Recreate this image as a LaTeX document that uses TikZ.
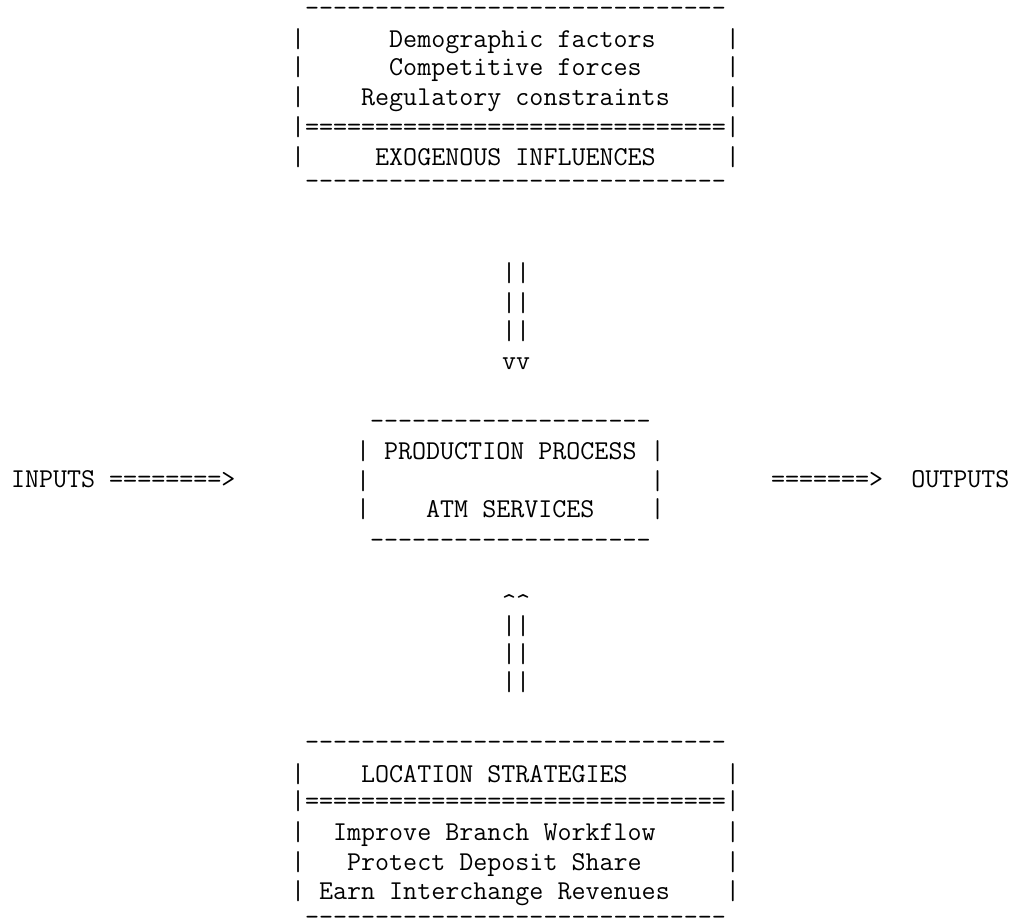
\documentclass[tikz,border=0pt]{standalone}
\usepackage{fontspec}
\newfontfamily\printerfont{Latin Modern Mono}
% repeat a typed character n times
\newcommand{\rpt}[2]{\foreach \n in {1,...,#1}{#2}}
\tikzset{
  typed/.style={anchor=base west, inner sep=0pt, outer sep=0pt,
    font={\printerfont\fontsize{13.62}{16}\selectfont}},
}

\begin{document}
\begin{tikzpicture}[x=0.5pt, y=-0.5pt]
  \useasboundingbox (0,0) rectangle (1020,921);

  % ---------- Top box: exogenous influences ----------
  \node[typed] (ex-top) at (291,17)  {~\rpt{30}{-}};
  \node[typed] (ex-r1)  at (291,47)  {|\rpt{6}{~}Demographic~factors\rpt{5}{~}|};
  \node[typed] (ex-r2)  at (291,75)  {|\rpt{6}{~}Competitive~forces\rpt{6}{~}|};
  \node[typed] (ex-r3)  at (291,105) {|\rpt{4}{~}Regulatory~constraints\rpt{4}{~}|};
  \node[typed] (ex-r4)  at (291,135) {|\rpt{30}{=}|};
  \node[typed] (ex-r5)  at (291,165) {|\rpt{5}{~}EXOGENOUS~INFLUENCES\rpt{5}{~}|};
  \node[typed] (ex-bot) at (291,189) {~\rpt{30}{-}};

  % ---------- Down arrow ----------
  \node[typed] (dn-1) at (502,281) {||};
  \node[typed] (dn-2) at (502,311) {||};
  \node[typed] (dn-3) at (502,339) {||};
  \node[typed] (dn-v) at (502,369) {vv};

  % ---------- Middle box: production process ----------
  \node[typed] (pp-top) at (356,429) {~\rpt{20}{-}};
  \node[typed] (pp-r1)  at (356,459) {|~PRODUCTION~PROCESS~|};
  \node[typed] (pp-r2)  at (356,489) {|\rpt{20}{~}|};
  \node[typed] (pp-r3)  at (356,517) {|\rpt{4}{~}ATM~SERVICES\rpt{4}{~}|};
  \node[typed] (pp-bot) at (356,548) {~\rpt{20}{-}};

  % ---------- Inputs and outputs ----------
  \node[typed] (inputs)  at (11,487)  {INPUTS~\rpt{8}{=}>};
  \node[typed] (outputs) at (771,487) {\rpt{7}{=}>~~OUTPUTS};

  % ---------- Up arrow ----------
  \node[typed] (up-h) at (502,611) {\textasciicircum\textasciicircum};
  \node[typed] (up-1) at (502,634) {||};
  \node[typed] (up-2) at (502,662) {||};
  \node[typed] (up-3) at (502,690) {||};

  % ---------- Bottom box: location strategies ----------
  \node[typed] (ls-top) at (291,750) {~\rpt{30}{-}};
  \node[typed] (ls-r1)  at (291,782) {|\rpt{4}{~}LOCATION~STRATEGIES\rpt{7}{~}|};
  \node[typed] (ls-r2)  at (291,809) {|\rpt{30}{=}|};
  \node[typed] (ls-r3)  at (291,840) {|~~Improve~Branch~Workflow\rpt{5}{~}|};
  \node[typed] (ls-r4)  at (291,870) {|~~~Protect~Deposit~Share\rpt{6}{~}|};
  \node[typed] (ls-r5)  at (291,899) {|~Earn~Interchange~Revenues\rpt{4}{~}|};
  \node[typed] (ls-bot) at (291,925) {~\rpt{30}{-}};
\end{tikzpicture}
\end{document}
